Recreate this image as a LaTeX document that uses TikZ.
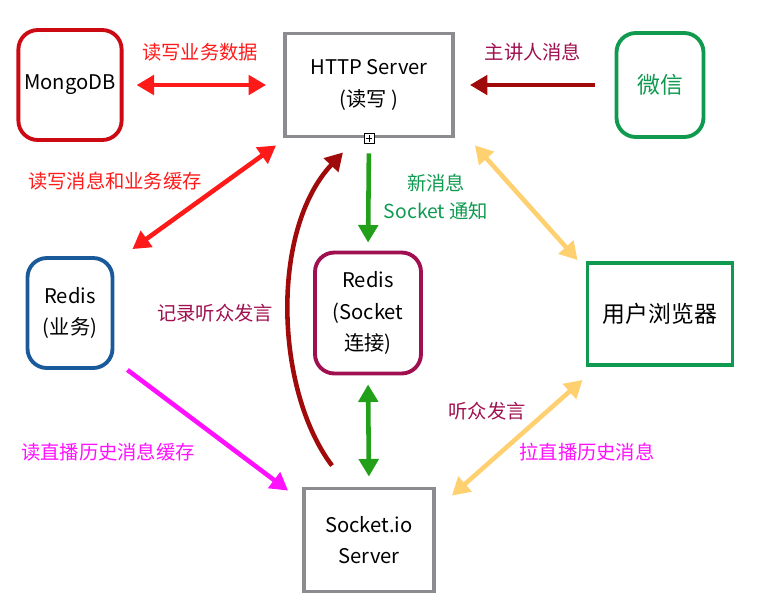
\documentclass[tikz,border=0pt]{standalone}
\usepackage{fontspec}
\setmainfont{Noto Sans CJK SC}
\usepackage{xcolor}
\usetikzlibrary{arrows.meta, positioning}

\definecolor{dbred}{HTML}{CC0A14}
\definecolor{rwred}{HTML}{FF1A1A}
\definecolor{srvgray}{HTML}{8C8C90}
\definecolor{wxgreen}{HTML}{0F9A50}
\definecolor{msggreen}{HTML}{22A01A}
\definecolor{darkred}{HTML}{A00A0A}
\definecolor{talkpurple}{HTML}{A01050}
\definecolor{cacheblue}{HTML}{1A5A9A}
\definecolor{histpink}{HTML}{FF10FF}
\definecolor{useryellow}{HTML}{FFD070}

\begin{document}
\begin{tikzpicture}[x=0.02cm, y=-0.02cm, font=\fontsize{11.5}{18}\selectfont]
\tikzstyle{box} = [rectangle, draw=srvgray, line width=2.2pt, align=center, text centered]
\tikzstyle{roundbox} = [box, rounded corners=11pt]
\tikzstyle{arrow} = [line width=2.6pt, -{Triangle[length=10pt,width=11pt]}]
\tikzstyle{both} = [line width=2.6pt, {Triangle[length=10pt,width=11pt]}-{Triangle[length=10pt,width=11pt]}]
\tikzstyle{label} = [font=\fontsize{11}{16}\selectfont, align=center]
\tikzstyle{big} = [font=\fontsize{13}{18}\selectfont]

\useasboundingbox (0,0) rectangle (768,610);

% Nodes
\node [roundbox, draw=dbred, minimum width=1.88cm, minimum height=2.2cm] (mongo) at (70,85) {MongoDB};
\node [box, minimum width=3.36cm, minimum height=2.06cm] (http) at (369,85) {HTTP Server\\(读写 )};
\node [roundbox, big, draw=wxgreen, text=wxgreen, minimum width=1.74cm, minimum height=2.08cm] (wechat) at (660,85) {微信};
\node [roundbox, draw=cacheblue, minimum width=1.7cm, minimum height=2.2cm] (redisbiz) at (70,313) {Redis\\(业务)};
\node [roundbox, draw=talkpurple, minimum width=2.12cm, minimum height=2.42cm] (redissock) at (368,313) {Redis\\(Socket\\连接)};
\node [box, big, draw=wxgreen, minimum width=2.9cm, minimum height=2.04cm] (browser) at (660,314) {用户浏览器};
\node [box, minimum width=2.6cm, minimum height=2.06cm] (sock) at (369,540) {Socket.io\\Server};
\node [draw, fill=white, line width=0.5pt, minimum size=0.2cm, inner sep=0pt] (handle) at (http.south) {};
\draw [line width=0.5pt, shorten <=1.2pt, shorten >=1.2pt] (handle.west) -- (handle.east);
\draw [line width=0.5pt, shorten <=1.2pt, shorten >=1.2pt] (handle.north) -- (handle.south);

% Labels
\node [label, text=rwred] (l1) at (200,52) {读写业务数据};
\node [label, text=talkpurple] (l2) at (533,52) {主讲人消息};
\node [label, text=rwred] (l3) at (115,181) {读写消息和业务缓存};
\node [label, text=wxgreen] (l4) at (436,197) {新消息\\Socket 通知};
\node [label, text=talkpurple] (l5) at (215,313) {记录听众发言};
\node [label, text=histpink] (l6) at (108,452) {读直播历史消息缓存};
\node [label, text=talkpurple] (l7) at (487,411) {听众发言};
\node [label, text=histpink] (l8) at (587,452) {拉直播历史消息};

% Arrows
\draw [both, draw=rwred, shorten <=0.26cm, shorten >=0.34cm] (mongo.east) -- (http.west);
\draw [arrow, draw=darkred, shorten <=0.4cm, shorten >=0.3cm] (wechat.west) -- (http.east);
\draw [both, draw=rwred] ([shift={(18,-7)}]redisbiz.north east) -- ([shift={(-7,7)}]http.south west);
\draw [arrow, draw=msggreen, shorten <=0.3cm, shorten >=0.16cm] (http.south) -- (redissock.north);
\draw [both, draw=msggreen, shorten <=0.18cm, shorten >=0.2cm] (redissock.south) -- (sock.north);
\draw [arrow, draw=darkred] ([shift={(-37,-21)}]sock.north) .. controls (275,390) and (270,230) .. ([shift={(-26,14)}]http.south);
\draw [arrow, draw=histpink] ([shift={(13,0)}]redisbiz.south east) -- ([shift={(-14,4)}]sock.north west);
\draw [both, draw=useryellow] ([shift={(20,7)}]http.south east) -- ([shift={(-8,-1)}]browser.north west);
\draw [both, draw=useryellow] ([shift={(16,9)}]sock.north east) -- ([shift={(-3,13)}]browser.south west);
\end{tikzpicture}
\end{document}
